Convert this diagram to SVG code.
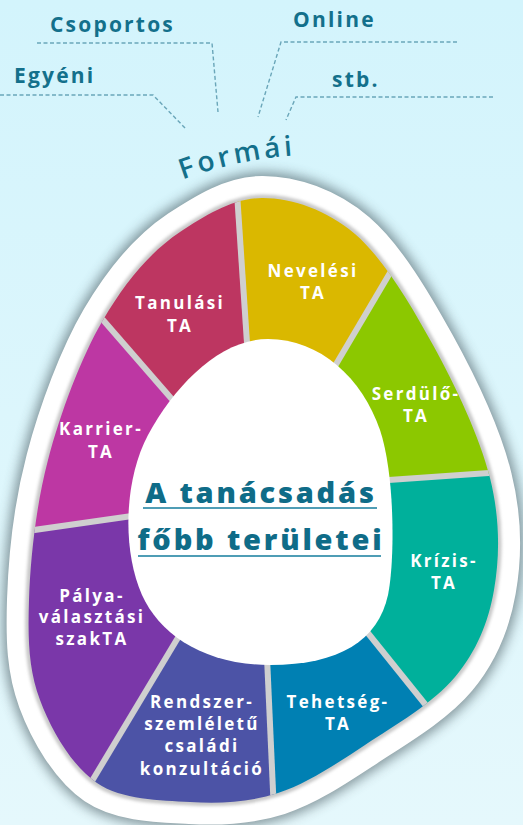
<svg xmlns="http://www.w3.org/2000/svg" width="523" height="825" viewBox="0 0 523 825">
<defs>
<linearGradient id="bg" x1="0" y1="0" x2="0" y2="1">
<stop offset="0" stop-color="#d3f4fc"/>
<stop offset="1" stop-color="#e5f8fc"/>
</linearGradient>
<filter id="blur" x="-20%" y="-20%" width="140%" height="140%"><feGaussianBlur stdDeviation="6"/></filter>
<filter id="blur2" x="-10%" y="-10%" width="120%" height="120%"><feGaussianBlur stdDeviation="1.5"/></filter>
<path id="egg" d="M262,198 C291.2,197.8 326.5,209.5 355,234 C383.5,258.5 410.5,304.3 433,345 C455.5,385.7 479.8,437.2 490,478 C500.2,518.8 499.8,556.8 494,590 C488.2,623.2 476.5,651.2 455,677 C433.5,702.8 394.5,725.7 365,745 C335.5,764.3 307.2,783.5 278,793 C248.8,802.5 220.2,803.7 190,802 C159.8,800.3 122,800 97,783 C72,766 51.3,730.5 40,700 C28.7,669.5 27.7,640 29,600 C30.3,560 35.7,506.7 48,460 C60.3,413.3 81,357.5 103,320 C125,282.5 150,252 180,232 C206.5,214.7 232.8,198.2 262,198 Z"/>
<clipPath id="ringClip"><use href="#egg"/></clipPath>
<path id="arc" d="M176,182 A405 405 0 0 1 345,155"/>
<style>
.seg{font-family:"Open Sans","DejaVu Sans",sans-serif;font-weight:700;font-size:17px;fill:#ffffff;letter-spacing:2.3px;text-anchor:middle}
.lbl{font-family:"Open Sans","DejaVu Sans",sans-serif;font-weight:700;font-size:21px;fill:#13708b;letter-spacing:2.2px}
.title{font-family:"Open Sans","DejaVu Sans",sans-serif;font-weight:800;font-size:29px;fill:#0f6c88;letter-spacing:2.8px;text-anchor:middle}
.ul{stroke:#4f9db5;stroke-width:2}
.dash{fill:none;stroke:#6aa6b9;stroke-width:1.4;stroke-dasharray:4 2.5}
.gap{stroke:#cfcfcf;stroke-width:6}
</style>
</defs>
<rect width="523" height="825" fill="url(#bg)"/>

<g id="egg-body">
<use href="#egg" fill="#44575d" stroke="#44575d" stroke-width="52" opacity="0.6" filter="url(#blur)"/>
<use href="#egg" fill="#ffffff" stroke="#ffffff" stroke-width="44" stroke-linejoin="round"/>
<use href="#egg" fill="none" stroke="#c9c9c9" stroke-width="7" filter="url(#blur2)"/>
</g>

<g id="segments" clip-path="url(#ringClip)">
<polygon id="seg-tanulasi" fill="#bd3661" points="262,505 190,420 77,290 130,190 235,163 249,373"/>
<polygon id="seg-nevelesi" fill="#dab800" points="262,505 249,373 235,163 320,140 410,239 325,383"/>
<polygon id="seg-serdulo" fill="#8cc800" points="262,505 325,383 410,239 545,350 530,470 360,482"/>
<polygon id="seg-krizis" fill="#00b09b" points="262,505 360,482 530,470 545,640 445,729 351,612"/>
<polygon id="seg-tehetseg" fill="#0080b3" points="262,505 351,612 445,729 380,840 275,835 266,635"/>
<polygon id="seg-rendszer" fill="#4c53a6" points="262,505 266,635 275,835 150,850 71,816 197,606"/>
<polygon id="seg-palya" fill="#7a37a9" points="262,505 197,606 71,816 -20,700 -8,536 153,513"/>
<polygon id="seg-karrier" fill="#bd37a3" points="262,505 153,513 -8,536 15,380 77,290 190,420"/>
<g id="gaps" class="gap">
<line x1="249" y1="373" x2="235" y2="163"/>
<line x1="325" y1="383" x2="410" y2="239"/>
<line x1="360" y1="482" x2="530" y2="470"/>
<line x1="351" y1="612" x2="445" y2="729"/>
<line x1="266" y1="635" x2="275" y2="835"/>
<line x1="197" y1="606" x2="71" y2="816"/>
<line x1="153" y1="513" x2="-8" y2="536"/>
<line x1="190" y1="420" x2="77" y2="290"/>
</g>
</g>

<g id="center">
<path fill="#ffffff" d="M268,339 C320,339 362,378 380,430 C395,475 395,560 388,595 C378,640 340,665 270,665 C205,665 160,635 142,595 C122,550 124,480 148,435 C175,385 220,339 268,339 Z"/>
<text class="title" x="261" y="503">A tanácsadás</text>
<line class="ul" x1="143" y1="508" x2="377" y2="508"/>
<text class="title" x="261" y="550">főbb területei</text>
<line class="ul" x1="138" y1="556" x2="381" y2="556"/>
</g>

<g id="n-tanulasi"><text class="seg" x="180" y="309">Tanulási</text><text class="seg" x="180" y="332">TA</text></g>
<g id="n-nevelesi"><text class="seg" x="313" y="277">Nevelési</text><text class="seg" x="313" y="299">TA</text></g>
<g id="n-serdulo"><text class="seg" x="416" y="400">Serdülő-</text><text class="seg" x="416" y="422">TA</text></g>
<g id="n-krizis"><text class="seg" x="444" y="567">Krízis-</text><text class="seg" x="444" y="589">TA</text></g>
<g id="n-tehetseg"><text class="seg" x="338" y="708">Tehetség-</text><text class="seg" x="338" y="730">TA</text></g>
<g id="n-rendszer"><text class="seg" x="202" y="708">Rendszer-</text><text class="seg" x="202" y="730">szemléletű</text><text class="seg" x="202" y="752">családi</text><text class="seg" x="202" y="775">konzultáció</text></g>
<g id="n-palya"><text class="seg" x="92" y="602">Pálya-</text><text class="seg" x="92" y="623">választási</text><text class="seg" x="92" y="645">szakTA</text></g>
<g id="n-karrier"><text class="seg" x="101" y="435">Karrier-</text><text class="seg" x="101" y="458">TA</text></g>

<g id="n-formai"><text class="lbl" style="font-size:28px;font-weight:600;letter-spacing:3.6px"><textPath href="#arc" startOffset="7">Formái</textPath></text></g>
<g id="n-csoportos"><text class="lbl" x="50" y="32">Csoportos</text></g>
<g id="n-online"><text class="lbl" x="293" y="27">Online</text></g>
<g id="n-egyeni"><text class="lbl" x="14" y="83">Egyéni</text></g>
<g id="n-stb"><text class="lbl" x="332" y="87">stb.</text></g>

<g id="connectors">
<polyline class="dash" points="37,43 212,43 218,112"/>
<polyline class="dash" points="457,42 281,42 258,117"/>
<polyline class="dash" points="0,95 153,95 186,129"/>
<polyline class="dash" points="493,97 296,97 286,120"/>
</g>
</svg>
